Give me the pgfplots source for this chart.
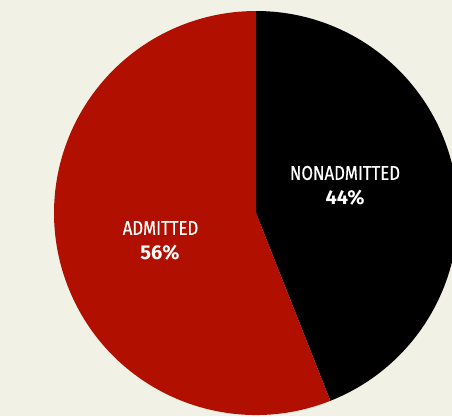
\documentclass[border=0pt]{standalone}
\usepackage{pgfplots}
\usepackage{pgfplotstable}
\pgfplotsset{compat=1.18}
\usepackage{fontspec}
\setmainfont{Fira Sans}
\newfontfamily\condfont[FakeStretch=0.84, FakeBold=0.6]{Fira Sans}
\definecolor{bg}{HTML}{F2F1E6}
\definecolor{redslice}{HTML}{B11000}
\pgfplotstableread{
label value
NONADMITTED 44
ADMITTED 56
}\piedata
\begin{document}
\begin{tikzpicture}
\pgfplotstablegetelem{0}{value}\of\piedata\let\vA\pgfplotsretval
\pgfplotstablegetelem{1}{value}\of\piedata\let\vB\pgfplotsretval
\pgfmathsetmacro\angA{90-360*\vA/(\vA+\vB)}
\begin{axis}[
  width=452pt, height=416pt, scale only axis,
  xmin=0, xmax=452, ymin=0, ymax=416,
  hide axis, clip=true,
]
\fill[bg] (axis cs:0,0) rectangle (axis cs:452,416);
\fill[black] (axis cs:256,203) -- ++(90:202pt) arc[start angle=90, end angle=\angA, radius=202pt] -- cycle;
\fill[redslice] (axis cs:256,203) -- ++(\angA:202pt) arc[start angle=\angA, end angle=-270, radius=202pt] -- cycle;
\node[text=white, font=\condfont\fontsize{20}{22}\selectfont] at (axis cs:345,243) {NONADMITTED};
\node[text=white, font=\bfseries\fontsize{20}{22}\selectfont] at (axis cs:345,218.5) {\vA\%};
\node[text=white, font=\condfont\fontsize{20}{22}\selectfont] at (axis cs:160.5,188) {ADMITTED};
\node[text=white, font=\bfseries\fontsize{20}{22}\selectfont] at (axis cs:160,163.5) {\vB\%};
\end{axis}
\end{tikzpicture}
\end{document}
